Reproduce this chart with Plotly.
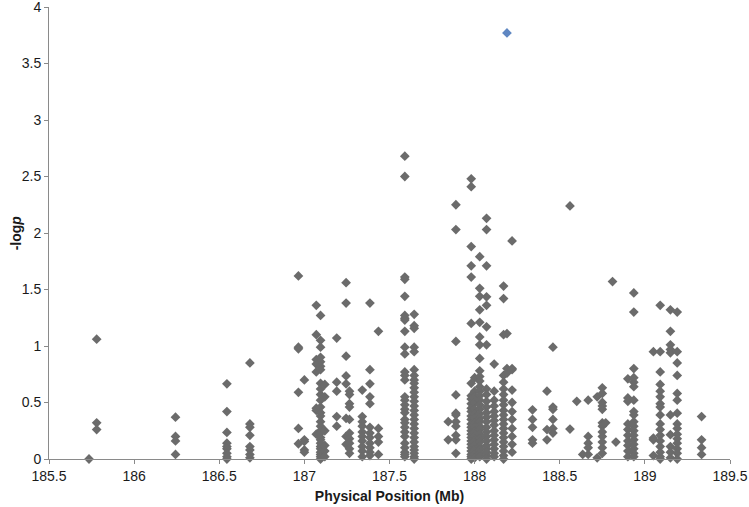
import plotly.graph_objects as go

# SNP columns: physical position (Mb) and the -log p values found at that position
column_positions = [
    185.735, 185.78, 186.243, 186.545, 186.68, 186.965, 187.0, 187.07, 187.095, 187.12,
    187.19, 187.245, 187.265, 187.34, 187.385, 187.435, 187.59, 187.645, 187.845, 187.89,
    187.98, 188.0, 188.03, 188.07, 188.115, 188.17, 188.19, 188.22, 188.34, 188.425,
    188.46, 188.56, 188.60, 188.635, 188.667, 188.72, 188.75, 188.77, 188.81, 188.83,
    188.9, 188.935, 189.05, 189.09, 189.15, 189.19, 189.333,
]
column_values = [
    [0.0],
    [1.06, 0.32, 0.26],
    [0.37, 0.20, 0.16, 0.04],
    [0.665, 0.42, 0.235, 0.14, 0.11, 0.09, 0.05, 0.02, 0.0],
    [0.85, 0.31, 0.28, 0.21, 0.11, 0.08, 0.04, 0.01],
    [1.62, 0.99, 0.975, 0.59, 0.27, 0.135],
    [0.70, 0.17, 0.155, 0.08, 0.06],
    [1.36, 1.10, 0.88, 0.84, 0.77, 0.45, 0.43, 0.22],
    [1.27, 1.05, 0.99, 0.90, 0.86, 0.82, 0.79, 0.67, 0.62, 0.57, 0.52, 0.46, 0.41, 0.38,
     0.33, 0.29, 0.25, 0.23, 0.19, 0.17, 0.14, 0.11, 0.09, 0.06, 0.04, 0.02, 0.0],
    [0.66, 0.55, 0.25, 0.12, 0.07, 0.02],
    [1.07, 0.68, 0.60, 0.376, 0.29],
    [1.56, 1.38, 0.91, 0.735, 0.665, 0.36, 0.20, 0.13],
    [0.60, 0.57, 0.49, 0.46, 0.35, 0.23, 0.18, 0.14, 0.09, 0.05],
    [0.61, 0.376, 0.33, 0.29, 0.24, 0.2, 0.16, 0.11, 0.07, 0.02],
    [1.38, 0.79, 0.665, 0.55, 0.49, 0.28, 0.23, 0.19, 0.14, 0.10, 0.06, 0.03],
    [1.13, 0.27, 0.2, 0.15, 0.04],
    [2.68, 2.50, 1.61, 1.59, 1.44, 1.27, 1.245, 1.23, 1.13, 0.99, 0.93, 0.77, 0.74, 0.70,
     0.55, 0.52, 0.48, 0.44, 0.41, 0.35, 0.32, 0.28, 0.24, 0.20, 0.14, 0.10, 0.06, 0.04, 0.02],
    [1.28, 1.18, 1.156, 0.99, 0.95, 0.79, 0.74, 0.70, 0.67, 0.63, 0.59, 0.55, 0.51, 0.47,
     0.43, 0.39, 0.35, 0.31, 0.27, 0.23, 0.19, 0.15, 0.11, 0.08, 0.05, 0.02, 0.0],
    [0.33, 0.17],
    [2.25, 2.03, 1.04, 0.567, 0.405, 0.39, 0.33, 0.29, 0.21, 0.17, 0.05],
    [2.48, 2.41, 1.88, 1.71, 1.61, 1.2, 0.67, 0.56, 0.53, 0.49, 0.45, 0.42, 0.38, 0.35,
     0.31, 0.28, 0.25, 0.22, 0.19, 0.16, 0.13, 0.10, 0.07, 0.04, 0.02, 0.0],
    [0.72, 0.6, 0.55, 0.5, 0.44, 0.40, 0.36, 0.32, 0.28, 0.24, 0.20, 0.16, 0.12, 0.08, 0.04, 0.01],
    [1.79, 1.51, 1.44, 1.32, 1.21, 1.08, 1.01, 0.89, 0.78, 0.73, 0.69, 0.64, 0.60, 0.56,
     0.52, 0.48, 0.44, 0.40, 0.36, 0.33, 0.29, 0.26, 0.22, 0.18, 0.15, 0.11, 0.08, 0.05, 0.02],
    [2.13, 2.03, 1.71, 1.435, 1.36, 1.17, 1.01, 0.62, 0.57, 0.51, 0.46, 0.41, 0.37, 0.33,
     0.28, 0.24, 0.20, 0.16, 0.12, 0.09, 0.06, 0.03, 0.0],
    [0.84, 0.6, 0.52, 0.47, 0.42, 0.38, 0.34, 0.30, 0.25, 0.21, 0.17, 0.13, 0.09, 0.05, 0.02],
    [1.53, 1.42, 1.1, 0.74, 0.68, 0.62, 0.57, 0.52, 0.48, 0.43, 0.39, 0.35, 0.31, 0.27,
     0.23, 0.19, 0.15, 0.11, 0.07, 0.03, 0.0],
    [1.11, 0.80, 0.76],
    [1.93, 0.80, 0.79, 0.61, 0.5, 0.42, 0.35, 0.27, 0.2, 0.13, 0.06],
    [0.435, 0.35, 0.28, 0.17, 0.14],
    [0.60, 0.26, 0.17],
    [0.99, 0.46, 0.44, 0.35, 0.27, 0.23],
    [2.24, 0.265],
    [0.51],
    [0.04],
    [0.52, 0.20, 0.14, 0.10, 0.04],
    [0.55, 0.01],
    [0.63, 0.58, 0.50, 0.47, 0.44, 0.32, 0.29, 0.24, 0.20, 0.15, 0.10, 0.05],
    [0.32],
    [1.57],
    [0.15],
    [0.71, 0.54, 0.51, 0.31, 0.26, 0.21, 0.16, 0.12, 0.07, 0.02],
    [1.47, 1.30, 0.80, 0.72, 0.68, 0.64, 0.52, 0.42, 0.39, 0.33, 0.29, 0.25, 0.21, 0.17,
     0.13, 0.09, 0.05, 0.02],
    [0.95, 0.185, 0.17, 0.03],
    [1.36, 0.95, 0.77, 0.66, 0.60, 0.55, 0.49, 0.46, 0.39, 0.31, 0.26, 0.21, 0.16, 0.11,
     0.06, 0.02, 0.0],
    [1.32, 1.13, 1.01, 0.97, 0.94, 0.39, 0.215, 0.11, 0.06, 0.01],
    [1.30, 0.95, 0.85, 0.74, 0.58, 0.52, 0.405, 0.31, 0.27, 0.22, 0.18, 0.14, 0.09, 0.05, 0.0],
    [0.376, 0.17, 0.1, 0.04],
]

# Lead SNP highlighted in blue
lead_pos = [188.19]
lead_logp = [3.77]

x_ticks = [185.5, 186, 186.5, 187, 187.5, 188, 188.5, 189, 189.5]
x_tick_labels = ["185.5", "186", "186.5", "187", "187.5", "188", "188.5", "189", "189.5"]
y_ticks = [0, 0.5, 1, 1.5, 2, 2.5, 3, 3.5, 4]
y_tick_labels = ["0", "0.5", "1", "1.5", "2", "2.5", "3", "3.5", "4"]

snp_pos = []
snp_logp = []
for pos, vals in zip(column_positions, column_values):
    for v in vals:
        snp_pos.append(pos)
        snp_logp.append(v)

fig = go.Figure()
fig.add_trace(go.Scatter(
    x=snp_pos, y=snp_logp, mode="markers",
    marker=dict(symbol="diamond", size=7.5, color="#6b6b6b", line=dict(width=0)),
    showlegend=False, cliponaxis=False,
))
fig.add_trace(go.Scatter(
    x=lead_pos, y=lead_logp, mode="markers",
    marker=dict(symbol="diamond", size=7.5, color="#5f87c2", line=dict(width=0)),
    showlegend=False, cliponaxis=False,
))

axis_font = dict(family="Liberation Sans, Arial, sans-serif", size=14, color="#1a1a1a")
fig.update_layout(
    width=749, height=507,
    margin=dict(l=49, r=19, t=7, b=48, autoexpand=False),
    paper_bgcolor="white", plot_bgcolor="white",
    font=axis_font,
    xaxis=dict(
        range=[185.5, 189.5], tickvals=x_ticks, ticktext=x_tick_labels, automargin=False,
        showgrid=False, zeroline=False, showline=True, linecolor="#8a8a8a", linewidth=1,
        ticks="outside", ticklen=4, tickcolor="#8a8a8a", ticklabeloverflow="allow",
        title=dict(text="<b>Physical Position (Mb)</b>", font=dict(size=14), standoff=8),
    ),
    yaxis=dict(
        range=[0, 4], tickvals=y_ticks, ticktext=y_tick_labels, automargin=False,
        showgrid=False, zeroline=False, showline=True, linecolor="#8a8a8a", linewidth=1,
        ticks="outside", ticklen=4, tickcolor="#8a8a8a", ticklabeloverflow="allow",
    ),
    annotations=[dict(
        text="<b>-log<i>p</i></b>", textangle=-90, showarrow=False,
        xref="paper", yref="paper", x=-0.048, y=0.5,
        xanchor="center", yanchor="middle", font=dict(size=14),
    )],
)

fig.write_html(
    "out.html",
    config={"displayModeBar": False},
    post_script="document.body.style.margin='0';document.body.style.padding='0';",
)
